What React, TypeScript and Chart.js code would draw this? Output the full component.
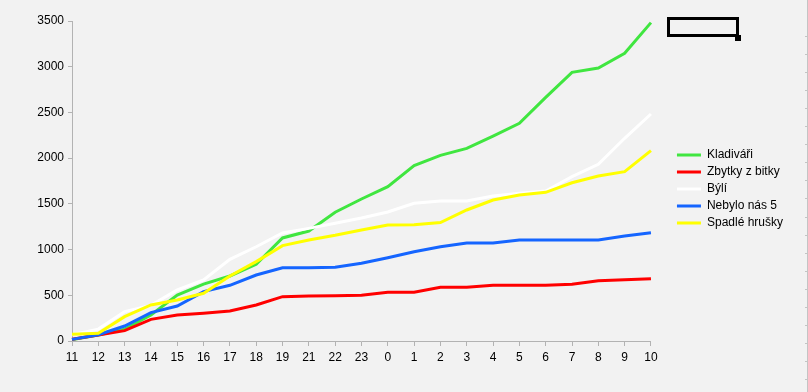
import React, { useEffect, useRef } from 'react';
import { Chart, registerables } from 'chart.js';
Chart.register(...registerables);

const categories = ['11', '12', '13', '14', '15', '16', '17', '18', '19', '21', '22', '23', '0', '1', '2', '3', '4', '5', '6', '7', '8', '9', '10'];

const seriesNames = ['Kladiváři', 'Zbytky z bitky', 'Býlí', 'Nebylo nás 5', 'Spadlé hrušky'];
const seriesColors = ['#40e640', '#ff0000', '#ffffff', '#1565ff', '#ffff00'];

const kladivari = [15, 65, 130, 284, 503, 623, 711, 839, 1127, 1203, 1408, 1553, 1688, 1918, 2030, 2107, 2242, 2381, 2665, 2939, 2986, 3147, 3482];
const zbytkyZBitky = [20, 65, 113, 237, 284, 303, 328, 394, 485, 492, 496, 500, 533, 533, 588, 588, 609, 609, 609, 620, 660, 671, 682];
const byli = [70, 130, 321, 390, 558, 667, 893, 1031, 1182, 1232, 1287, 1345, 1411, 1506, 1530, 1531, 1586, 1615, 1641, 1797, 1932, 2217, 2483];
const nebyloNas5 = [18, 69, 164, 310, 383, 540, 609, 722, 800, 802, 806, 850, 911, 977, 1030, 1072, 1072, 1105, 1105, 1105, 1105, 1148, 1185];
const spadleHrusky = [73, 85, 266, 394, 448, 522, 711, 868, 1043, 1105, 1156, 1214, 1269, 1272, 1296, 1433, 1542, 1597, 1626, 1731, 1805, 1852, 2082];

const seriesValues = [kladivari, zbytkyZBitky, byli, nebyloNas5, spadleHrusky];

const yMin = 0;
const yMax = 3500;
const yStep = 500;

export default function App() {
  const ref = useRef<HTMLCanvasElement>(null);

  useEffect(() => {
    document.body.style.margin = '0';
    document.body.style.background = '#f2f2f2';
    if (!ref.current) return;

    const bgPlugin = {
      id: 'bgFill',
      beforeDraw(chart: any) {
        const ctx = chart.ctx;
        ctx.save();
        ctx.fillStyle = '#f2f2f2';
        ctx.fillRect(0, 0, chart.width, chart.height);
        ctx.restore();
      },
    };

    const decoPlugin = {
      id: 'deco',
      afterDraw(chart: any) {
        const ctx = chart.ctx;
        ctx.save();
        // selection-like frame at top right
        ctx.strokeStyle = '#000';
        ctx.lineWidth = 3;
        ctx.strokeRect(668.5, 18.5, 69, 17);
        ctx.fillStyle = '#000';
        ctx.fillRect(735, 35, 6, 6);
        // ruler at right edge
        ctx.strokeStyle = '#c4c4c4';
        ctx.lineWidth = 1;
        ctx.beginPath();
        ctx.moveTo(807.5, 0);
        ctx.lineTo(807.5, chart.height);
        for (let y = 36; y < 385; y += 18.05) {
          const yy = Math.round(y) + 0.5;
          ctx.moveTo(805, yy);
          ctx.lineTo(808, yy);
        }
        ctx.stroke();
        ctx.restore();
      },
    };

    const chart = new Chart(ref.current, {
      type: 'line',
      data: {
        labels: categories,
        datasets: seriesValues.map((vals, i) => ({
          label: seriesNames[i],
          data: vals,
          borderColor: seriesColors[i],
          backgroundColor: seriesColors[i],
          borderWidth: 3,
          pointRadius: 0,
          pointHoverRadius: 0,
          tension: 0,
          fill: false,
          order: seriesValues.length - 1 - i,
          yAxisID: 'y',
        })),
      },
      options: {
        animation: false,
        responsive: false,
        devicePixelRatio: 1,
        layout: { padding: { left: 0, top: 21, bottom: 0, right: 15 } },
        plugins: {
          tooltip: { enabled: false },
          legend: {
            display: true,
            position: 'right',
            align: 'center',
            fullSize: false,
            title: { display: true, text: ' ', font: { size: 10 }, padding: 2 },
            labels: {
              color: '#000',
              font: { family: 'Liberation Sans', size: 12 },
              boxWidth: 24,
              boxHeight: 3,
              padding: 5,
              generateLabels: (c: any) =>
                c.data.datasets.map((ds: any, i: number) => ({
                  text: ds.label,
                  fillStyle: ds.borderColor,
                  strokeStyle: ds.borderColor,
                  lineWidth: 0,
                  hidden: false,
                  datasetIndex: i,
                  fontColor: '#000',
                })),
            },
          },
        },
        scales: {
          x: {
            type: 'category',
            offset: false,
            grid: { display: true, drawOnChartArea: false, drawTicks: true, tickLength: 5, color: '#b3b3b3' },
            border: { display: true, color: '#b3b3b3', width: 1 },
            ticks: { color: '#000', font: { family: 'Liberation Sans', size: 12 }, padding: 4, autoSkip: false, maxRotation: 0 },
            afterFit: (s: any) => { s.height = 51; },
          },
          y: {
            type: 'linear',
            position: 'left',
            min: yMin,
            max: yMax,
            ticks: {
              stepSize: yStep,
              color: '#000',
              padding: 4,
              font: { family: 'Liberation Sans', size: 12 },
              callback: (v: any) => String(v),
            },
            grid: { display: true, drawOnChartArea: false, drawTicks: true, tickLength: 4, color: '#b3b3b3' },
            border: { display: true, color: '#b3b3b3', width: 1 },
            afterFit: (s: any) => { s.width = 72; },
          },
          y2: {
            type: 'linear',
            position: 'right',
            display: true,
            min: yMin,
            max: yMax,
            grid: { display: false },
            ticks: { display: false },
            border: { display: false },
            afterFit: (s: any) => { s.width = 21; },
          },
        },
      },
      plugins: [bgPlugin, decoPlugin],
    } as any);

    return () => chart.destroy();
  }, []);

  return (
    <div style={{ width: 808, height: 392, background: '#f2f2f2' }}>
      <canvas ref={ref} width={808} height={392} style={{ display: 'block' }} />
    </div>
  );
}
